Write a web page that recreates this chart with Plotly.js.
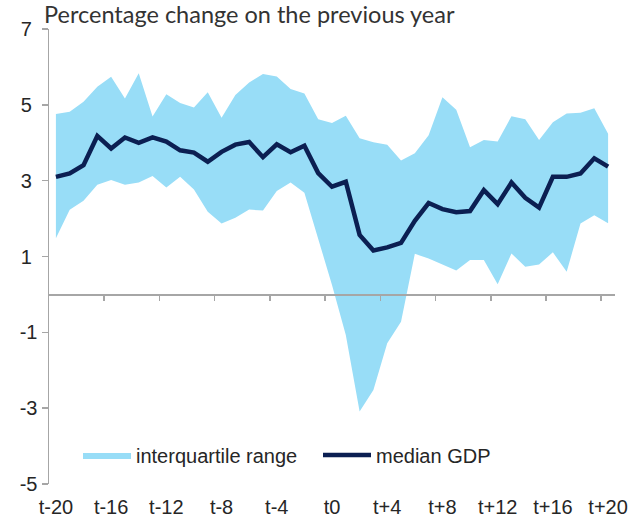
<!DOCTYPE html>
<html>
<head>
<meta charset="utf-8">
<script src="https://cdn.plot.ly/plotly-3.0.1.min.js"></script>
<style>html,body{margin:0;padding:0;background:#fff;}#chart{width:639px;height:518px;}</style>
</head>
<body>
<div id="chart"></div>
<script>
// Periods t-20 ... t+20
const periods = [-20,-19,-18,-17,-16,-15,-14,-13,-12,-11,-10,-9,-8,-7,-6,-5,-4,-3,-2,-1,0,1,2,3,4,5,6,7,8,9,10,11,12,13,14,15,16,17,18,19,20];
const tickPeriods = [-20,-16,-12,-8,-4,0,4,8,12,16,20];
const tickLabels = ["t-20","t-16","t-12","t-8","t-4","t0","t+4","t+8","t+12","t+16","t+20"];
const yTicks = [7,5,3,1,-1,-3,-5];

const medianGDP = [3.10,3.19,3.41,4.18,3.85,4.14,4.00,4.14,4.03,3.80,3.74,3.50,3.76,3.95,4.02,3.62,3.96,3.75,3.92,3.20,
                   2.84,2.97,1.57,1.16,1.24,1.36,1.94,2.41,2.25,2.17,2.20,2.75,2.38,2.95,2.55,2.29,3.10,3.10,3.19,3.59,3.37];
const upperQuartile = [4.76,4.82,5.08,5.48,5.74,5.17,5.83,4.69,5.28,5.05,4.93,5.33,4.66,5.26,5.59,5.81,5.75,5.42,5.30,4.62,
                       4.52,4.71,4.12,4.01,3.95,3.53,3.72,4.20,5.20,4.87,3.88,4.07,4.03,4.70,4.62,4.07,4.54,4.77,4.79,4.91,4.24];
const lowerQuartile = [1.48,2.23,2.47,2.89,3.02,2.89,2.95,3.12,2.82,3.10,2.77,2.18,1.87,2.02,2.24,2.21,2.73,2.95,2.68,1.45,
                       0.25,-1.07,-3.09,-2.52,-1.29,-0.72,1.07,0.95,0.79,0.63,0.91,0.91,0.27,1.08,0.73,0.79,1.11,0.60,1.87,2.09,1.88];

const bandColor = '#98DDF7';
const lineColor = '#0B1F52';
const axisColor = '#A6A6A6';
const textColor = '#262626';

const traces = [
  {x: periods, y: lowerQuartile, type: 'scatter', mode: 'lines', line: {width: 0, color: bandColor},
   showlegend: false, hoverinfo: 'skip'},
  {x: periods, y: upperQuartile, type: 'scatter', mode: 'lines', line: {width: 0, color: bandColor},
   fill: 'tonexty', fillcolor: bandColor, name: 'interquartile range'},
  {x: periods, y: medianGDP, type: 'scatter', mode: 'lines', line: {width: 4.5, color: lineColor},
   name: 'median GDP'},
  {x: [], y: [], xaxis: 'x2', type: 'scatter', mode: 'lines', showlegend: false, hoverinfo: 'skip'}
];

// Positive labels carry a trailing space, as in the source's number format
const yTickText = yTicks.map(v => v >= 0 ? String(v) + '\u00A0' : String(v));

const xr = [-20.5, 20.5];
const layout = {
  width: 639, height: 518,
  margin: {l: 49, r: 24, t: 29, b: 34, pad: 0},
  paper_bgcolor: '#fff', plot_bgcolor: '#fff',
  font: {family: '"Liberation Sans", Arial, sans-serif', size: 20, color: textColor},
  title: {text: 'Percentage change on the previous year', x: 44/639, xanchor: 'left', xref: 'container',
          y: 1 - 15/518, yanchor: 'middle', yref: 'container',
          font: {family: 'Lato, "Open Sans", sans-serif', size: 23.5, color: '#333'}},
  xaxis: {range: xr, showline: false, zeroline: false, showgrid: false, ticks: '',
          tickmode: 'array', tickvals: tickPeriods, ticktext: tickLabels, ticklabelstandoff: 9,
          tickfont: {size: 20, color: textColor}, fixedrange: true},
  xaxis2: {overlaying: 'x', anchor: 'free', position: 5/12, range: xr, showline: true, linecolor: axisColor,
           linewidth: 1.5, zeroline: false, showgrid: false, ticks: 'outside', ticklen: 5, tickwidth: 1.5,
           tickcolor: axisColor, tickmode: 'array', tickvals: tickPeriods.slice(1).map(v => v - 0.5),
           showticklabels: false},
  yaxis: {range: [-5, 7], showline: true, linecolor: axisColor, linewidth: 1.5, zeroline: false, showgrid: false,
          ticks: 'outside', ticklen: 6, tickwidth: 1.5, tickcolor: axisColor,
          tickmode: 'array', tickvals: yTicks, ticktext: yTickText, tickfont: {size: 20, color: textColor}},
  showlegend: true,
  legend: {orientation: 'h', x: 29/566, xanchor: 'left', y: 29/455, yanchor: 'middle',
           font: {size: 20, color: textColor}, bgcolor: 'rgba(0,0,0,0)', itemwidth: 48,
           entrywidth: 177, entrywidthmode: 'pixels', traceorder: 'normal'}
};

Plotly.newPlot('chart', traces, layout, {displayModeBar: false, staticPlot: true});
</script>
</body>
</html>
